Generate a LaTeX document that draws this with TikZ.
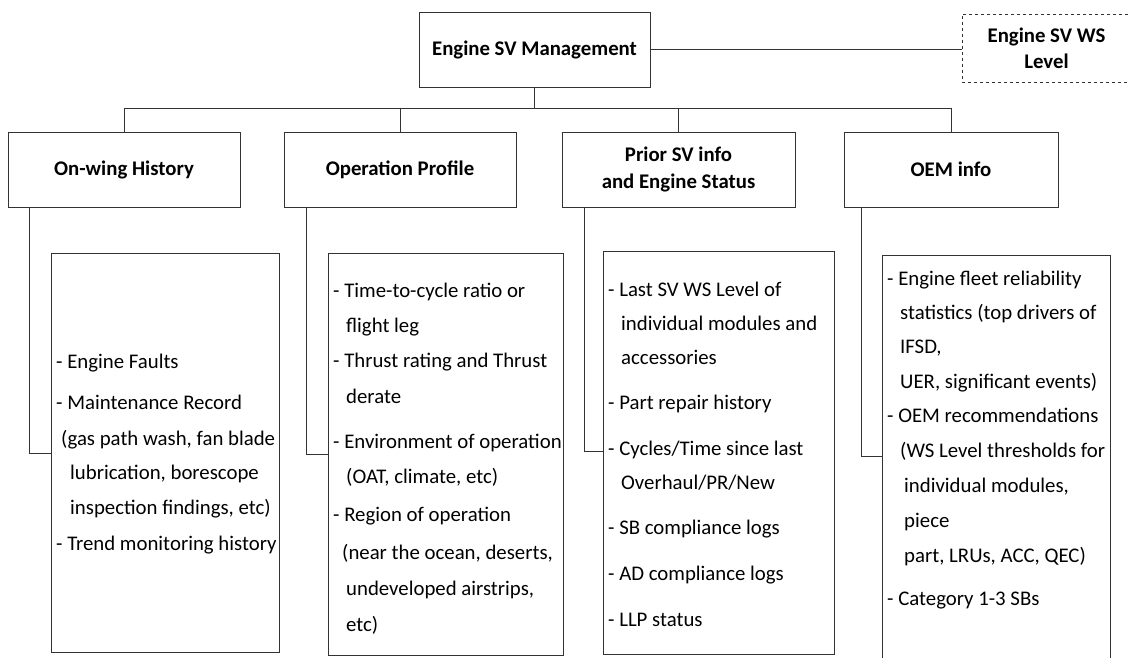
\documentclass[tikz,border=0pt]{standalone}
\usepackage{fontspec}
\setmainfont{Carlito}
\begin{document}
\begin{tikzpicture}[x=1pt,y=-1pt,
  box/.style={draw=black!80,line width=0.8pt,inner sep=0pt,fill=white},
  head/.style={box,font=\fontsize{20.8}{24}\selectfont\bfseries,align=center},
  item/.style={anchor=west,inner sep=0pt,font=\fontsize{20.8}{24}\selectfont,text height=0.62em,text depth=0.18em},
  link/.style={draw=black!80,line width=0.8pt}]
\useasboundingbox (0,0) rectangle (1129,658);

% top level
\node[head,minimum width=231pt,minimum height=75pt] (top) at (534.5,49.5) {Engine SV Management};
\node[head,dashed,minimum width=169pt,minimum height=68pt] (ws) at (1046.5,48) {Engine SV WS\\[2pt]Level};
\draw[link] (top.east) -- (top.east -| ws.west);

% second level
\node[head,minimum width=232pt,minimum height=75pt] (ow) at (124,169.5) {On-wing History};
\node[head,minimum width=232pt,minimum height=75pt] (op) at (400,169.5) {Operation Profile};
\node[head,minimum width=233pt,minimum height=75pt] (ps) at (678.5,169.5) {Prior SV info\\[3pt]and Engine Status};
\node[head,minimum width=214pt,minimum height=75pt] (oem) at (951,169.5) {OEM info};

\coordinate (bus) at (534.5,108);
\draw[link] (top.south) -- (bus);
\foreach \n in {ow,op,ps,oem} \draw[link] (\n.north) |- (bus);

% detail boxes
\node[box,minimum width=228pt,minimum height=399pt] (owd) at (165,452.5) {};
\node[box,minimum width=235pt,minimum height=402pt] (opd) at (445.5,454) {};
\node[box,minimum width=231pt,minimum height=403pt] (psd) at (718.5,452.5) {};
\node[box,minimum width=228pt,minimum height=420pt] (oemd) at (996,465) {};

\coordinate (owe) at (51,453);
\coordinate (ope) at (328,454);
\coordinate (pse) at (603,451);
\coordinate (oeme) at (882,456);
\draw[link] ([xshift=22pt]ow.south west) |- (owe);
\draw[link] ([xshift=23pt]op.south west) |- (ope);
\draw[link] ([xshift=23pt]ps.south west) |- (pse);
\draw[link] ([xshift=18pt]oem.south west) |- (oeme);

% item texts
\foreach \y/\dx/\t [count=\i] in {
  366/0/{- Engine Faults},
  407/0/{- Maintenance Record},
  443/5/{(gas path wash, fan blade},
  477/14/{lubrication, borescope},
  512/14/{inspection findings, etc)},
  548/0/{- Trend monitoring history}}
  \node[item] (owt\i) at (56+\dx,\y) {\t};

\foreach \y/\dx/\t [count=\i] in {
  295/0/{- Time-to-cycle ratio or},
  330/13/{flight leg},
  365/0/{- Thrust rating and Thrust},
  401/13/{derate},
  446/0/{- Environment of operation},
  481/13/{(OAT, climate, etc)},
  519/0/{- Region of operation},
  557/9/{(near the ocean, deserts,},
  593/13/{undeveloped airstrips,},
  629/13/{etc)}}
  \node[item] (opt\i) at (333+\dx,\y) {\t};

\foreach \y/\dx/\t [count=\i] in {
  294/0/{- Last SV WS Level of},
  328/13/{individual modules and},
  362/13/{accessories},
  407/0/{- Part repair history},
  453/0/{- Cycles/Time since last},
  487/13/{Overhaul/PR/New},
  532/0/{- SB compliance logs},
  578/0/{- AD compliance logs},
  624/0/{- LLP status}}
  \node[item] (pst\i) at (608+\dx,\y) {\t};

\foreach \y/\dx/\t [count=\i] in {
  283/0/{- Engine fleet reliability},
  317/13/{statistics (top drivers of},
  351/13/{IFSD,},
  386/13/{UER, significant events)},
  420/0/{- OEM recommendations},
  455/13/{(WS Level thresholds for},
  490/17/{individual modules,},
  525/17/{piece},
  560/17/{part, LRUs, ACC, QEC)},
  603/0/{- Category 1-3 SBs}}
  \node[item] (oemt\i) at (887+\dx,\y) {\t};
\end{tikzpicture}
\end{document}
